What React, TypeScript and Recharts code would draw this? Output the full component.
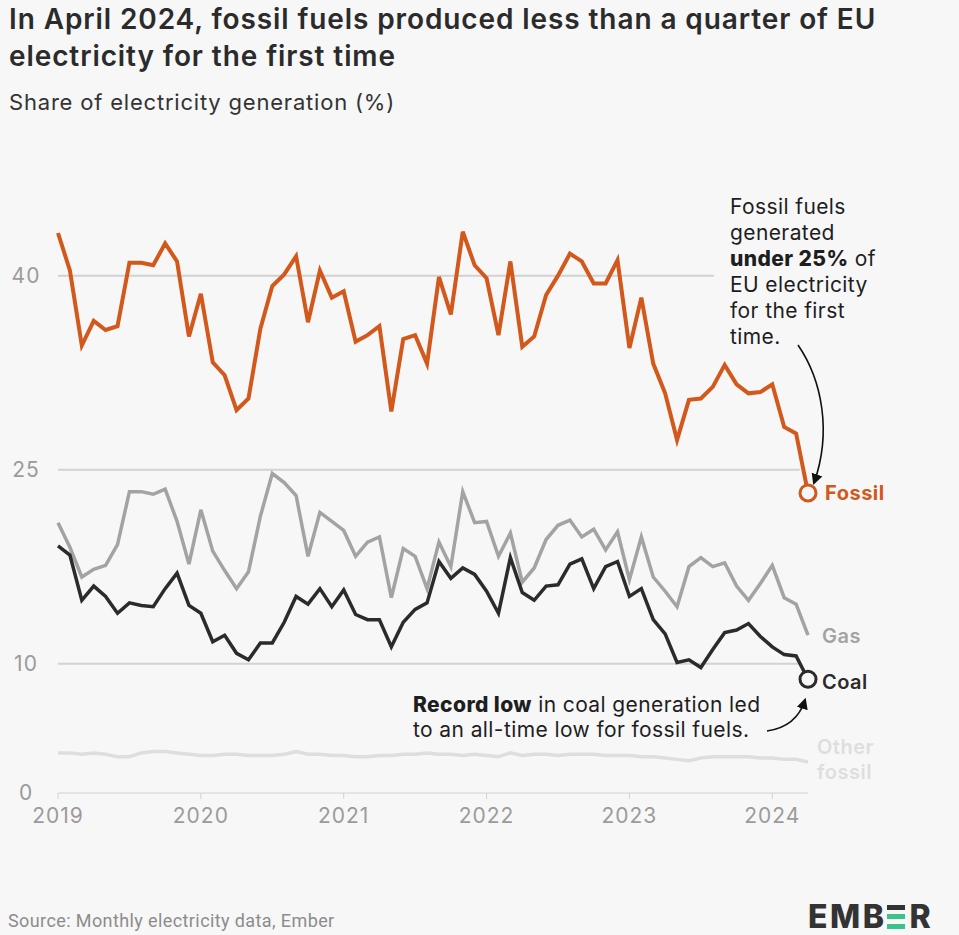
import React from "react";
import {
  LineChart,
  Line,
  XAxis,
  YAxis,
  ReferenceLine,
  ReferenceDot,
} from "recharts";

// monthly shares of EU electricity, Jan 2019 .. Apr 2024
const fossil = [
  43.3, 40.4, 34.6, 36.5, 35.8, 36.1, 41.0, 41.0, 40.8, 42.5, 41.1, 35.3,
  38.6, 33.3, 32.3, 29.6, 30.5, 35.9, 39.2, 40.1, 41.5, 36.4, 40.4, 38.3,
  38.8, 34.9, 35.4, 36.1, 29.5, 35.1, 35.4, 33.2, 39.9, 37.0, 43.4, 40.8,
  39.8, 35.4, 41.1, 34.5, 35.3, 38.5, 40.0, 41.7, 41.1, 39.4, 39.4, 41.2,
  34.4, 38.3, 33.2, 30.9, 27.3, 30.4, 30.5, 31.4, 33.1, 31.6, 30.9, 31.0,
  31.6, 28.3, 27.8, 23.2,
];
const gas = [
  20.9, 19.0, 16.7, 17.3, 17.6, 19.2, 23.3, 23.3, 23.1, 23.5, 21.0, 17.7,
  21.9, 18.7, 17.2, 15.8, 17.1, 21.4, 24.7, 24.0, 23.0, 18.3, 21.7, 21.0,
  20.3, 18.3, 19.4, 19.8, 15.1, 18.9, 18.3, 15.8, 19.4, 17.5, 23.3, 20.9,
  21.0, 18.3, 20.1, 16.3, 17.4, 19.6, 20.7, 21.1, 19.8, 20.4, 18.8, 20.2,
  16.5, 19.8, 16.7, 15.6, 14.4, 17.5, 18.2, 17.5, 17.8, 16.0, 14.9, 16.2,
  17.6, 15.1, 14.6, 12.2,
];
const coal = [
  19.1, 18.4, 14.9, 16.0, 15.2, 13.9, 14.7, 14.5, 14.4, 15.8, 17.0, 14.5,
  13.9, 11.7, 12.2, 10.8, 10.3, 11.6, 11.6, 13.2, 15.2, 14.6, 15.8, 14.4,
  15.7, 13.8, 13.4, 13.4, 11.3, 13.2, 14.2, 14.7, 17.9, 16.6, 17.4, 16.9,
  15.6, 13.9, 18.2, 15.5, 14.9, 16.0, 16.1, 17.7, 18.1, 15.8, 17.5, 17.9,
  15.2, 15.8, 13.4, 12.3, 10.1, 10.3, 9.7, 11.1, 12.4, 12.6, 13.1, 12.1,
  11.3, 10.7, 10.6, 8.8,
];
const otherFossil = [
  3.1, 3.1, 3.0, 3.1, 3.0, 2.8, 2.8, 3.1, 3.2, 3.2, 3.1, 3.0,
  2.9, 2.9, 3.0, 3.0, 2.9, 2.9, 2.9, 3.0, 3.2, 3.0, 3.0, 2.9,
  2.9, 2.8, 2.8, 2.9, 2.9, 3.0, 3.0, 3.1, 3.0, 3.0, 2.9, 3.0,
  2.9, 2.8, 3.1, 2.9, 3.0, 3.0, 2.9, 3.0, 3.0, 3.0, 2.9, 2.9,
  2.9, 2.8, 2.8, 2.7, 2.6, 2.5, 2.7, 2.8, 2.8, 2.8, 2.8, 2.7,
  2.7, 2.6, 2.6, 2.4,
];
const years = [2019, 2020, 2021, 2022, 2023, 2024];
const yTicks = [0, 10, 25, 40];

const data = fossil.map((f, i) => ({
  m: i,
  fossil: f,
  gas: gas[i],
  coal: coal[i],
  other: otherFossil[i],
}));
const last = data.length - 1;

const BG = "#f7f7f7";
const ORANGE = "#d2581c";
const GAS = "#a3a3a3";
const COAL = "#2b2b2b";
const OTHER = "#dedede";
const GRID = "#d2d2d2";
const TICK = "#9b9b9b";

const YTick = (p: any) => (
  <text x={26} y={p.y} dy="0.35em" textAnchor="middle" fontSize={21} letterSpacing={1} fill={TICK}>
    {p.payload.value}
  </text>
);

const XTick = (p: any) => (
  <text x={p.x} y={p.y} dy="0.75em" textAnchor="middle" fontSize={21} letterSpacing={1} fill={TICK}>
    {years[0] + p.payload.value / 12}
  </text>
);

export default function App() {
  return (
    <div
      style={{
        position: "absolute",
        left: 0,
        top: 0,
        width: 959,
        height: 935,
        background: BG,
        fontFamily: "Inter, sans-serif",
        color: "#222",
        overflow: "hidden",
      }}
    >
      <div style={{ position: "absolute", left: 9, top: 1, fontSize: 28, fontWeight: 600, lineHeight: "37px", letterSpacing: 0.9, color: "#2b2b2b", whiteSpace: "nowrap" }}>
        In April 2024, fossil fuels produced less than a quarter of EU
        <br />
        electricity for the first time
      </div>
      <div style={{ position: "absolute", left: 9, top: 89, fontSize: 22, letterSpacing: 0.8, color: "#333", whiteSpace: "nowrap" }}>
        Share of electricity generation (%)
      </div>

      <div style={{ position: "absolute", left: 0, top: 0 }}>
        <LineChart width={959} height={935} data={data} margin={{ top: 211, right: 151, bottom: 102, left: 8 }}>
          <XAxis
            dataKey="m"
            type="number"
            domain={[0, last]}
            ticks={years.map((y) => (y - years[0]) * 12)}
            height={40}
            stroke={GRID}
            tickSize={6}
            tickMargin={8}
            tick={XTick}
          />
          <YAxis
            type="number"
            domain={[0, 45]}
            ticks={yTicks}
            width={50}
            axisLine={false}
            tickLine={false}
            tick={YTick}
          />
          <ReferenceLine segment={[{ x: 0, y: 10 }, { x: 62.3, y: 10 }]} stroke={GRID} strokeWidth={2} />
          <ReferenceLine segment={[{ x: 0, y: 25 }, { x: 62.3, y: 25 }]} stroke={GRID} strokeWidth={2} />
          <ReferenceLine segment={[{ x: 0, y: 40 }, { x: 55.1, y: 40 }]} stroke={GRID} strokeWidth={2} />
          <Line dataKey="other" stroke={OTHER} strokeWidth={3.5} dot={false} isAnimationActive={false} />
          <Line dataKey="gas" stroke={GAS} strokeWidth={3.5} dot={false} isAnimationActive={false} />
          <Line dataKey="coal" stroke={COAL} strokeWidth={3.5} dot={false} isAnimationActive={false} />
          <Line dataKey="fossil" stroke={ORANGE} strokeWidth={4} dot={false} isAnimationActive={false} />
          <ReferenceDot x={last} y={fossil[last]} r={8} fill={BG} stroke={ORANGE} strokeWidth={3} />
          <ReferenceDot x={last} y={coal[last]} r={8} fill={BG} stroke={COAL} strokeWidth={3} />
        </LineChart>
      </div>

      {/* arrows */}
      <svg width={959} height={935} style={{ position: "absolute", left: 0, top: 0, pointerEvents: "none" }}>
        <defs>
          <marker id="ah" viewBox="0 0 10 10" refX="8" refY="5" markerWidth="7" markerHeight="7" orient="auto">
            <path d="M0,0 L10,5 L0,10 z" fill="#111" />
          </marker>
        </defs>
        <path d="M 798 345 C 822 380, 832 432, 814 483" fill="none" stroke="#111" strokeWidth={1.6} markerEnd="url(#ah)" />
        <path d="M 767 731 C 788 728, 800 716, 805 700" fill="none" stroke="#111" strokeWidth={1.6} markerEnd="url(#ah)" />
      </svg>

      {/* annotations */}
      <div style={{ position: "absolute", left: 730, top: 194, fontSize: 21, lineHeight: "26px", letterSpacing: 0.4, color: "#1e1e1e", whiteSpace: "nowrap" }}>
        Fossil fuels
        <br />
        generated
        <br />
        <b style={{ fontWeight: 800 }}>under 25%</b> of
        <br />
        EU electricity
        <br />
        for the first
        <br />
        time.
      </div>
      <div style={{ position: "absolute", left: 413, top: 692, fontSize: 21, lineHeight: "25px", letterSpacing: 0.4, color: "#1e1e1e", whiteSpace: "nowrap" }}>
        <b style={{ fontWeight: 800 }}>Record low</b> in coal generation led
        <br />
        to an all-time low for fossil fuels.
      </div>

      {/* series labels */}
      <div style={{ position: "absolute", left: 825, top: 481, fontSize: 20, fontWeight: 700, letterSpacing: 0.5, color: ORANGE }}>Fossil</div>
      <div style={{ position: "absolute", left: 822, top: 624, fontSize: 20, fontWeight: 600, letterSpacing: 0.5, color: GAS }}>Gas</div>
      <div style={{ position: "absolute", left: 822, top: 670, fontSize: 20, fontWeight: 600, letterSpacing: 0.5, color: COAL }}>Coal</div>
      <div style={{ position: "absolute", left: 817, top: 735, fontSize: 20, fontWeight: 600, lineHeight: "25px", letterSpacing: 0.5, color: OTHER }}>
        Other
        <br />
        fossil
      </div>

      {/* footer */}
      <div style={{ position: "absolute", left: 8, top: 910, fontSize: 18, letterSpacing: 0.4, fontFamily: "Roboto, sans-serif", color: "#8c8c8c", whiteSpace: "nowrap" }}>
        Source: Monthly electricity data, Ember
      </div>
      <div style={{ position: "absolute", left: 808, top: 897, display: "flex", alignItems: "center", fontSize: 32, fontWeight: 800, color: "#333", letterSpacing: 2.5 }}>
        <span>EMB</span>
        <span style={{ display: "inline-flex", flexDirection: "column", justifyContent: "space-between", width: 18, height: 24, margin: "0 4px 0 1px" }}>
          <span style={{ height: 5, background: "#333" }} />
          <span style={{ height: 5, background: "#3bc38a" }} />
          <span style={{ height: 5, background: "#3bc38a" }} />
        </span>
        <span>R</span>
      </div>
    </div>
  );
}
